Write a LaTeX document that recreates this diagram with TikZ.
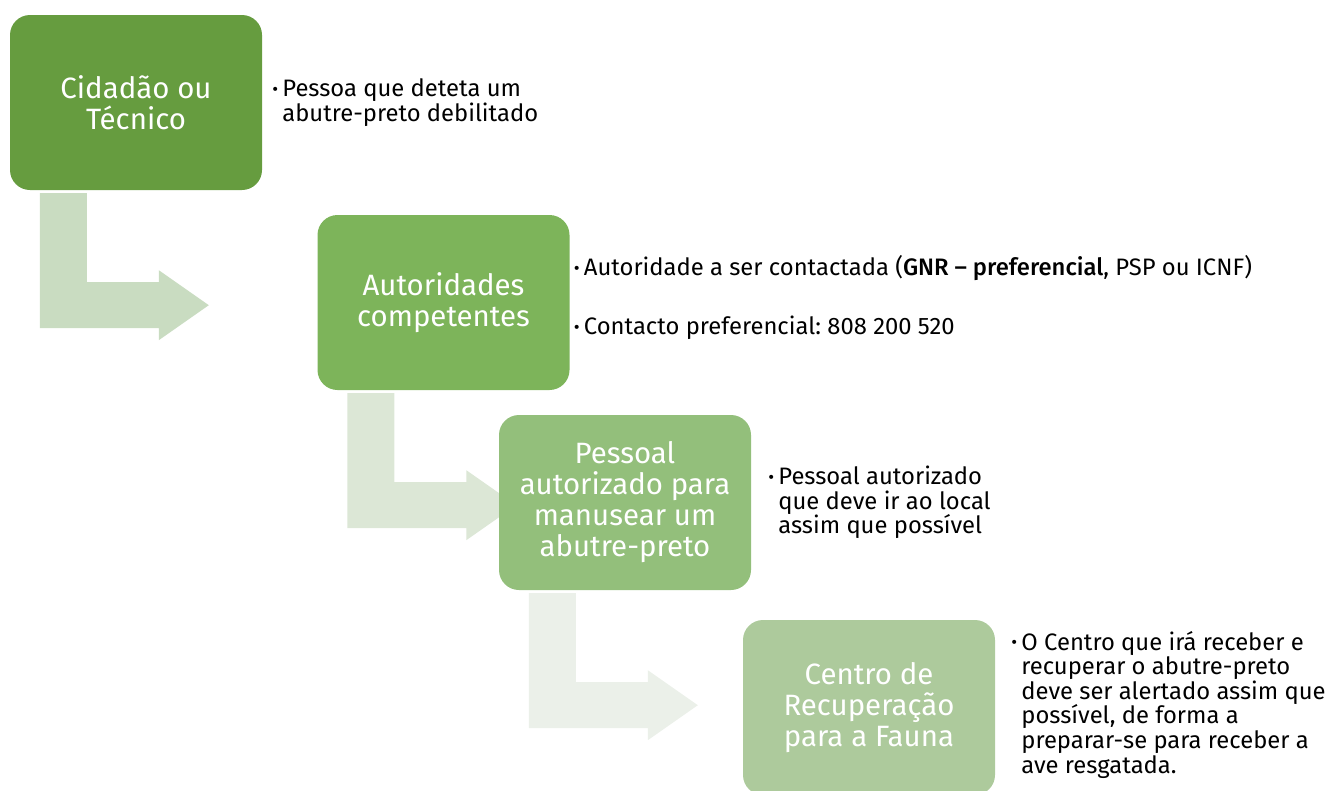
\documentclass[tikz,border=0pt]{standalone}
\usepackage{fontspec}
\setmainfont{Fira Sans}[BoldFont = * Medium]
\frenchspacing
\usetikzlibrary{positioning}
\usetikzlibrary{backgrounds}
\tikzset{stage/.style = {rounded corners=20pt, minimum width=252pt, minimum height=175pt,
                         inner sep=0, text=white, align=center,
                         font=\fontsize{29.4}{31}\selectfont}}
\tikzset{note/.style = {inner sep=0, align=left, font=\fontsize{23.8}{24.6}\selectfont}}
\definecolor{stageA}{HTML}{669C3F}
\definecolor{stageB}{HTML}{7DB45A}
\definecolor{stageC}{HTML}{93BF7B}
\definecolor{stageD}{HTML}{ADCA9C}
\definecolor{bendA}{HTML}{C9DCC1}
\definecolor{bendB}{HTML}{DCE7D6}
\definecolor{bendC}{HTML}{EBF0E9}
\newcommand\blt{\makebox[10pt][l]{\fontsize{18}{18}\selectfont\raisebox{1.5pt}{•}}}
\newcommand\bltgap{\hspace*{10pt}}

\begin{document}
\begin{tikzpicture}[x=1pt, y=1pt]
    \useasboundingbox (0, 0) rectangle (1327, -790);

    \node [stage, fill=stageA] (cid) at (136, -102.5) {Cidadão ou\\Técnico};
    \node [stage, fill=stageB] (aut) at (443.5, -302.5) {Autoridades\\competentes};
    \node [stage, fill=stageC] (pes) at (625, -502.5) {Pessoal\\autorizado para\\manusear um\\abutre-preto};
    \node [stage, fill=stageD] (cen) at (869, -707.5) {Centro de\\Recuperação\\para a Fauna};

    \node [note, right=10pt of cid] (cidnote) {\blt Pessoa que deteta um\\\bltgap abutre-preto debilitado};
    \node [note, right=4pt of aut, yshift=5pt] (autnote) {\blt Autoridade a ser contactada (\textbf{GNR – preferencial}, PSP ou ICNF)\\[34.4pt]\blt Contacto preferencial: 808 200 520};
    \node [note, right=17pt of pes] (pesnote) {\blt Pessoal autorizado\\\bltgap que deve ir ao local\\\bltgap assim que possível};
    \node [note, right=16pt of cen, yshift=3pt] (cennote) {\blt O Centro que irá receber e\\\bltgap recuperar o abutre-preto\\\bltgap deve ser alertado assim que\\\bltgap possível, de forma a\\\bltgap preparar-se para receber a\\\bltgap ave resgatada.};

    \begin{scope}[on background layer]
      \foreach \from/\col in {cid/bendA, aut/bendB, pes/bendC} {
        \fill [\col, shift={(\from.south west)}] (30, -3) -- (77, -3) -- (77, -92) -- (149, -92) -- (149, -80)
          -- (199, -115) -- (149, -150) -- (149, -138) -- (30, -138) -- cycle;
      }
    \end{scope}
  \end{tikzpicture}
\end{document}
